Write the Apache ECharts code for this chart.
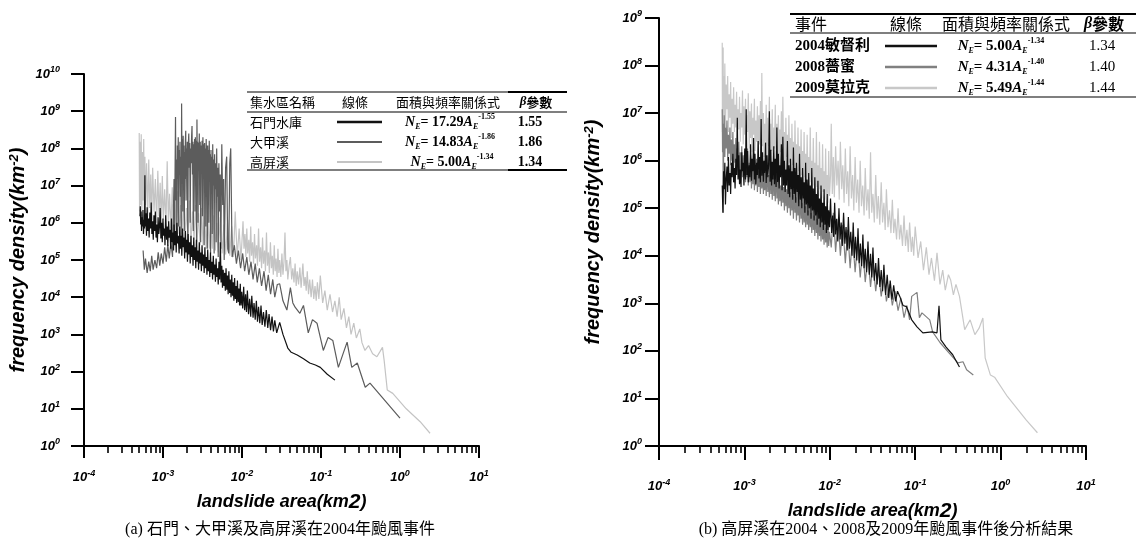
<!DOCTYPE html>
<html>
<head>
<meta charset="utf-8">
<title>landslide area frequency density</title>
<script src="https://cdn.jsdelivr.net/npm/echarts@6/dist/echarts.min.js"></script>
<style>
html, body { margin: 0; padding: 0; background: #fff; }
#chart { width: 1136px; height: 544px; }
</style>
</head>
<body>
<div id="chart"></div>
<script>
// (a) 2004 typhoon, three catchments  [area km2, frequency density km-2]
const shimen = [
  [5.10e-4,1.5e6],[5.16e-4,2.8e6],[5.22e-4,9.0e5],[5.28e-4,2.0e6],[5.35e-4,6.0e5],[5.42e-4,1.4e6],[5.50e-4,8.0e5],[5.58e-4,2.2e6],
  [5.66e-4,5.0e5],[5.75e-4,1.2e6],[5.84e-4,7.0e5],[5.90e-4,1.9e7],[5.96e-4,8.0e5],[6.07e-4,1.8e6],[6.18e-4,4.5e5],[6.30e-4,2.6e6],
  [6.42e-4,6.0e5],[6.55e-4,1.3e6],[6.68e-4,4.0e5],[6.81e-4,1.9e6],[6.95e-4,7.0e5],[7.09e-4,3.5e6],[7.23e-4,5.0e5],[7.38e-4,1.1e6],
  [7.53e-4,3.5e5],[7.68e-4,1.6e6],[7.84e-4,6.0e5],[8.00e-4,2.0e6],[8.16e-4,4.0e5],[8.33e-4,9.0e5],[8.50e-4,3.0e5],[8.67e-4,1.4e6],
  [8.85e-4,5.0e5],[9.03e-4,8.0e5],[9.21e-4,2.5e6],[9.40e-4,3.8e5],[9.59e-4,1.0e6],[9.79e-4,3.0e5],[9.99e-4,1.3e6],[1.02e-3,4.5e5],
  [1.04e-3,7.0e5],[1.06e-3,2.5e5],[1.08e-3,1.6e6],[1.11e-3,3.5e5],[1.13e-3,8.0e5],[1.15e-3,2.4e5],[1.18e-3,1.1e6],[1.20e-3,4.0e5],
  [1.23e-3,6.5e5],[1.25e-3,2.0e5],[1.28e-3,1.3e6],[1.30e-3,3.0e5],[1.33e-3,5.5e5],[1.36e-3,1.8e5],[1.38e-3,9.0e5],[1.41e-3,2.5e5],
  [1.44e-3,6.0e5],[1.47e-3,1.6e5],[1.50e-3,1.0e6],[1.53e-3,2.8e5],[1.56e-3,4.5e5],[1.60e-3,1.5e5],[1.63e-3,8.0e5],[1.66e-3,2.0e5],
  [1.70e-3,4.5e5],[1.73e-3,1.3e5],[1.77e-3,7.0e5],[1.80e-3,2.2e5],[1.84e-3,4.0e5],[1.88e-3,1.1e5],[1.92e-3,6.0e5],[1.96e-3,1.6e5],
  [2.00e-3,3.5e5],[2.04e-3,9.0e4],[2.08e-3,5.0e5],[2.12e-3,1.4e5],[2.17e-3,3.0e5],[2.21e-3,8.0e4],[2.26e-3,4.5e5],[2.30e-3,1.2e5],
  [2.35e-3,2.5e5],[2.40e-3,7.0e4],[2.45e-3,4.0e5],[2.50e-3,1.0e5],[2.55e-3,2.2e5],[2.60e-3,6.0e4],[2.65e-3,3.5e5],[2.71e-3,9.0e4],
  [2.76e-3,1.8e5],[2.82e-3,5.5e4],[2.88e-3,3.0e5],[2.94e-3,8.0e4],[3.00e-3,1.6e5],[3.06e-3,5.0e4],[3.12e-3,2.5e5],[3.19e-3,7.0e4],
  [3.25e-3,1.4e5],[3.32e-3,4.5e4],[3.39e-3,2.2e5],[3.46e-3,6.0e4],[3.53e-3,1.2e5],[3.60e-3,4.0e4],[3.68e-3,1.9e5],[3.75e-3,5.0e4],
  [3.83e-3,1.0e5],[3.91e-3,3.5e4],[3.99e-3,1.6e5],[4.07e-3,4.5e4],[4.16e-3,9.0e4],[4.24e-3,3.0e4],[4.33e-3,1.3e5],[4.42e-3,4.0e4],
  [4.51e-3,7.5e4],[4.61e-3,2.6e4],[4.70e-3,1.1e5],[4.80e-3,3.5e4],[4.90e-3,6.0e4],[5.00e-3,2.2e4],[5.11e-3,9.0e4],[5.21e-3,3.0e4],
  [5.32e-3,3.0e5],[5.43e-3,2.5e4],[5.55e-3,7.0e4],[5.66e-3,1.8e4],[5.78e-3,5.5e4],[5.90e-3,2.0e4],[6.03e-3,4.5e4],[6.15e-3,1.5e4],
  [6.28e-3,6.0e4],[6.41e-3,1.6e4],[6.55e-3,3.8e4],[6.68e-3,1.2e4],[6.82e-3,5.0e4],[6.97e-3,1.3e4],[7.11e-3,3.0e4],[7.26e-3,1.0e4],
  [7.42e-3,4.0e4],[7.57e-3,1.1e4],[7.73e-3,2.5e4],[7.89e-3,8.0e3],[8.06e-3,3.3e4],[8.23e-3,9.0e3],[8.40e-3,2.0e4],[8.57e-3,7.0e3],
  [8.75e-3,2.8e4],[8.94e-3,7.5e3],[9.12e-3,1.7e4],[9.32e-3,6.0e3],[9.51e-3,2.3e4],[9.71e-3,6.0e3],[9.92e-3,1.4e4],[1.02e-2,5.0e3],
  [1.05e-2,1.9e4],[1.08e-2,4.5e3],[1.11e-2,1.2e4],[1.14e-2,4.0e3],[1.17e-2,1.5e4],[1.21e-2,3.5e3],[1.25e-2,9.0e3],[1.29e-2,3.0e3],
  [1.33e-2,1.1e4],[1.38e-2,2.8e3],[1.42e-2,7.0e3],[1.47e-2,2.5e3],[1.52e-2,8.0e3],[1.57e-2,2.2e3],[1.62e-2,5.5e3],[1.68e-2,2.0e3],
  [1.74e-2,6.0e3],[1.80e-2,1.8e3],[1.87e-2,4.0e3],[1.95e-2,1.6e3],[2.03e-2,4.5e3],[2.12e-2,1.5e3],[2.20e-2,3.5e3],[2.30e-2,1.3e3],
  [2.40e-2,3.0e3],[2.50e-2,1.2e3],[2.60e-2,2.4e3],[2.75e-2,1.1e3],[3.00e-2,2.1e3],[3.30e-2,1.0e3],[3.80e-2,4.3e2],[4.20e-2,3.3e2],
  [5.00e-2,2.8e2],[6.00e-2,2.2e2],[7.20e-2,1.7e2],[8.50e-2,1.5e2],[9.80e-2,1.3e2],[1.20e-1,8.5e1],[1.50e-1,5.9e1]
];
const dajia = [
  [5.6e-4,1.8e5],[5.8e-4,5.5e4],[6.0e-4,1.1e5],[6.3e-4,4.5e4],[6.6e-4,9.0e4],[6.9e-4,5.0e4],[7.2e-4,1.3e5],[7.5e-4,5.5e4],
  [7.9e-4,1.0e5],[8.3e-4,6.0e4],[8.7e-4,1.6e5],[9.1e-4,7.0e4],[9.5e-4,1.5e5],[1.0e-3,8.0e4],[1.05e-3,2.2e5],[1.1e-3,9.0e4],
  [1.15e-3,2.6e5],[1.2e-3,1.1e5],[1.26e-3,3.0e5],[1.32e-3,1.2e5],
  [1.38e-3,1.5e7],[1.40e-3,3.0e5],[1.42e-3,2.0e7],[1.44e-3,7.0e8],[1.46e-3,4.0e6],[1.48e-3,5.0e7],[1.50e-3,3.0e5],[1.52e-3,1.2e8],
  [1.54e-3,1.5e7],[1.56e-3,2.0e8],[1.58e-3,8.0e5],[1.60e-3,9.0e7],[1.62e-3,2.0e7],[1.64e-3,1.5e8],[1.66e-3,5.0e6],[1.68e-3,6.0e7],
  [1.70e-3,2.5e5],[1.72e-3,1.6e9],[1.74e-3,3.0e7],[1.76e-3,1.8e8],[1.78e-3,2.0e6],[1.80e-3,2.2e8],[1.82e-3,3.0e7],[1.84e-3,1.2e8],
  [1.86e-3,6.0e5],[1.88e-3,8.0e7],[1.90e-3,1.5e7],[1.92e-3,1.6e8],[1.94e-3,3.0e8],[1.96e-3,4.0e6],[1.98e-3,1.0e8],[2.00e-3,2.5e7],
  [2.03e-3,1.5e8],[2.06e-3,3.0e5],[2.09e-3,1.2e8],[2.12e-3,2.5e8],[2.15e-3,3.0e7],[2.18e-3,1.4e8],[2.21e-3,1.0e6],[2.24e-3,1.0e8],
  [2.27e-3,4.0e7],[2.30e-3,2.0e8],[2.33e-3,4.0e8],[2.36e-3,2.0e7],[2.39e-3,1.5e8],[2.42e-3,6.0e5],[2.45e-3,1.3e8],[2.48e-3,5.0e7],
  [2.51e-3,1.8e8],[2.54e-3,2.0e6],[2.57e-3,2.0e8],[2.60e-3,6.0e7],[2.63e-3,1.6e8],[2.66e-3,2.0e5],[2.69e-3,6.0e8],[2.72e-3,3.0e7],
  [2.75e-3,1.5e8],[2.78e-3,1.0e6],[2.81e-3,1.4e8],[2.84e-3,4.0e7],[2.88e-3,2.5e8],[2.92e-3,3.0e6],[2.96e-3,1.5e8],[3.00e-3,3.0e5],
  [3.04e-3,1.2e8],[3.08e-3,3.0e7],[3.12e-3,1.6e8],[3.16e-3,1.5e6],[3.20e-3,2.0e8],[3.24e-3,5.0e7],[3.28e-3,1.3e8],[3.32e-3,2.5e5],
  [3.36e-3,1.4e8],[3.40e-3,2.0e7],[3.44e-3,1.0e8],[3.48e-3,8.0e5],[3.52e-3,1.8e8],[3.56e-3,4.0e7],[3.60e-3,1.2e8],[3.64e-3,2.0e5],
  [3.68e-3,1.2e8],[3.72e-3,3.0e7],[3.76e-3,9.0e7],[3.80e-3,1.0e6],[3.85e-3,1.6e8],[3.90e-3,2.0e7],[3.95e-3,7.0e7],[4.00e-3,1.5e5],
  [4.05e-3,9.0e7],[4.10e-3,1.5e7],[4.15e-3,6.0e7],[4.20e-3,5.0e5],[4.26e-3,1.3e8],[4.32e-3,1.0e7],[4.38e-3,5.0e7],[4.44e-3,1.5e5],
  [4.50e-3,7.0e7],[4.57e-3,8.0e6],[4.64e-3,4.0e7],[4.71e-3,3.0e5],[4.78e-3,1.0e8],[4.85e-3,5.0e6],[4.92e-3,3.0e7],[5.00e-3,1.2e5],
  [5.10e-3,4.0e7],[5.20e-3,2.0e6],[5.30e-3,2.0e7],[5.40e-3,2.0e5],[5.55e-3,1.3e8],[5.70e-3,3.0e6],[5.85e-3,1.5e7],[5.95e-3,1.0e5],
  [6.2e-3,3.0e7],[6.4e-3,6.0e7],[6.6e-3,2.0e5],[6.8e-3,1.5e5],[7.0e-3,4.0e7],[7.2e-3,1.0e8],[7.5e-3,1.2e5],
  [8.0e-3,2.5e5],[8.5e-3,8.0e4],[9.0e-3,1.8e5],[9.6e-3,6.0e4],
  [1.02e-2,1.5e5],[1.08e-2,5.0e4],[1.15e-2,1.2e5],[1.22e-2,4.0e4],[1.3e-2,9.0e4],[1.38e-2,3.0e4],[1.47e-2,8.0e4],[1.56e-2,2.5e4],
  [1.66e-2,6.0e4],[1.77e-2,2.0e4],[1.9e-2,5.0e4],[2.02e-2,1.5e4],[2.15e-2,4.0e4],[2.3e-2,1.2e4],[2.45e-2,3.0e4],[2.6e-2,1.0e4],
  [2.8e-2,2.2e4],[3.0e-2,2.3e4],[3.3e-2,8.0e3],[3.7e-2,4.5e3],[4.1e-2,1.8e4],[4.4e-2,7.0e3],[4.7e-2,5.4e3],[5.4e-2,3.7e3],
  [6.0e-2,6.0e3],[6.9e-2,1.1e3],[7.8e-2,2.5e3],[8.9e-2,2.0e3],[1.07e-1,3.7e2],[1.23e-1,8.3e2],[1.41e-1,6.9e2],[1.66e-1,1.3e2],
  [1.9e-1,3.0e2],[2.14e-1,6.2e2],[2.45e-1,1.3e2],[2.88e-1,1.7e2],[3.63e-1,3.8e1],[4.17e-1,4.9e1],[1.0,5.6]
];
const gaoping = [
  [5.0e-4,2.6e8],[5.05e-4,2.0e6],[5.1e-4,1.5e8],[5.2e-4,3.0e6],[5.3e-4,2.4e8],[5.4e-4,1.5e6],[5.5e-4,8.0e7],[5.6e-4,4.0e6],
  [5.7e-4,1.8e8],[5.8e-4,2.0e6],[5.9e-4,6.0e7],[6.0e-4,3.0e6],[6.2e-4,4.0e7],[6.4e-4,1.5e6],[6.6e-4,5.0e7],[6.8e-4,2.5e6],
  [7.0e-4,2.0e7],[7.2e-4,1.2e6],[7.4e-4,3.0e7],[7.7e-4,2.0e6],[8.0e-4,1.5e7],[8.3e-4,1.0e6],[8.6e-4,2.5e7],[8.9e-4,1.5e6],
  [9.2e-4,1.2e7],[9.5e-4,9.0e5],[9.8e-4,1.8e7],[1.01e-3,1.2e6],[1.05e-3,8.0e6],[1.09e-3,8.0e5],[1.13e-3,4.5e7],[1.17e-3,1.0e6],
  [1.21e-3,6.0e6],[1.26e-3,7.0e5],[1.31e-3,9.0e6],[1.36e-3,8.0e5],[1.41e-3,4.0e6],[1.47e-3,6.0e5],[1.53e-3,7.0e6],[1.6e-3,5.0e5],
  [1.67e-3,3.0e6],[1.74e-3,5.0e5],[1.82e-3,5.0e6],[1.9e-3,4.0e5],[1.98e-3,2.5e6],[2.07e-3,4.0e5],[2.16e-3,4.0e6],[2.26e-3,3.0e5],
  [2.36e-3,2.0e6],[2.47e-3,3.5e5],[2.58e-3,3.0e6],[2.7e-3,3.0e5],[2.82e-3,1.8e6],[2.95e-3,2.5e5],[3.08e-3,2.5e6],[3.22e-3,2.5e5],
  [3.37e-3,1.5e6],[3.52e-3,2.0e5],[3.68e-3,2.0e6],[3.85e-3,2.0e5],[4.02e-3,1.2e6],[4.2e-3,2.0e5],[4.4e-3,1.6e6],[4.6e-3,1.8e5],
  [4.8e-3,1.0e6],[5.0e-3,1.6e5],[5.3e-3,1.4e6],[5.6e-3,1.5e5],[5.9e-3,9.0e5],[6.2e-3,1.4e5],[6.6e-3,1.2e6],[7.0e-3,1.3e5],
  [7.4e-3,8.0e5],[7.8e-3,1.2e5],[8.2e-3,2.0e6],[8.7e-3,1.2e5],[9.2e-3,7.0e5],[9.7e-3,1.0e5],[1.03e-2,1.1e6],[1.06e-2,2.0e5],
  [1.09e-2,5.0e5],[1.12e-2,1.2e5],[1.15e-2,7.0e5],[1.18e-2,1.5e5],[1.22e-2,3.5e5],[1.25e-2,9.0e4],[1.29e-2,8.0e5],[1.32e-2,1.3e5],
  [1.36e-2,3.0e5],[1.4e-2,8.0e4],[1.44e-2,5.0e5],[1.48e-2,1.1e5],[1.53e-2,2.5e5],[1.57e-2,7.0e4],[1.62e-2,7.0e5],[1.67e-2,9.0e4],
  [1.72e-2,2.2e5],[1.77e-2,6.0e4],[1.82e-2,4.0e5],[1.87e-2,8.0e4],[1.93e-2,1.8e5],[1.98e-2,5.0e4],[2.04e-2,5.5e5],[2.1e-2,7.0e4],
  [2.16e-2,1.6e5],[2.22e-2,4.5e4],[2.29e-2,3.0e5],[2.36e-2,6.0e4],[2.42e-2,1.3e5],[2.49e-2,4.0e4],[2.56e-2,2.5e5],[2.63e-2,5.0e4],
  [2.7e-2,1.1e5],[2.78e-2,3.5e4],[2.85e-2,2.0e5],[2.93e-2,4.5e4],[3.0e-2,1.0e5],[3.1e-2,3.5e4],[3.2e-2,1.5e5],[3.3e-2,4.0e4],
  [3.4e-2,9.0e4],[3.5e-2,5.5e5],[3.6e-2,5.0e4],[3.7e-2,1.0e5],[3.8e-2,3.0e4],[3.95e-2,7.0e4],[4.1e-2,1.2e5],[4.25e-2,3.0e4],
  [4.4e-2,6.0e4],[4.55e-2,2.5e4],[4.7e-2,8.0e4],[4.85e-2,2.0e4],[5.0e-2,5.0e4],[5.2e-2,2.2e4],[5.4e-2,6.3e4],[5.6e-2,1.8e4],
  [5.9e-2,8.0e4],[6.1e-2,2.0e4],[6.3e-2,3.5e4],[6.5e-2,1.5e4],[6.7e-2,5.0e4],[6.95e-2,1.2e4],[7.2e-2,3.0e4],[7.5e-2,1.0e4],
  [7.8e-2,3.0e4],[8.1e-2,9.0e3],[8.4e-2,2.0e4],[8.7e-2,8.0e3],[9.0e-2,2.5e4],[9.4e-2,9.0e3],[9.8e-2,3.8e4],[1.05e-1,7.0e3],
  [1.12e-1,1.5e4],[1.2e-1,4.5e3],[1.3e-1,1.2e4],[1.4e-1,4.0e3],[1.5e-1,8.0e3],[1.6e-1,3.0e3],[1.7e-1,1.0e4],[1.8e-1,2.5e3],
  [1.95e-1,5.0e3],[2.1e-1,1.5e3],[2.25e-1,3.0e3],[2.4e-1,1.0e3],[2.6e-1,2.0e3],[2.8e-1,8.0e2],[3.1e-1,1.4e3],[3.3e-1,6.0e2],
  [3.6e-1,3.7e2],[4.0e-1,5.0e2],[4.5e-1,3.0e2],[5.1e-1,2.5e2],[5.6e-1,3.5e2],[6.0e-1,4.5e2],[6.3e-1,2.0e2],[6.9e-1,3.2e1],
  [8.1e-1,2.6e1],[1.2,1.0e1],[1.8,4.5],[2.4,2.2]
];

// (b) Gaoping river, three typhoon events
const mindulle2004 = [
  [5.50e-4,3.0e5],[5.60e-4,8.0e4],[5.70e-4,6.0e5],[5.80e-4,2.5e5],[5.90e-4,9.0e5],[6.00e-4,1.2e5],[6.12e-4,4.0e5],[6.25e-4,7.5e5],
  [6.37e-4,2.2e5],[6.50e-4,1.2e6],[6.63e-4,3.0e5],[6.77e-4,5.5e5],[6.90e-4,2.0e5],[7.04e-4,9.0e5],[7.18e-4,4.5e5],[7.33e-4,1.4e6],
  [7.48e-4,3.5e5],[7.63e-4,7.0e5],[7.78e-4,2.6e5],[7.94e-4,1.1e6],[8.10e-4,5.0e5],[8.26e-4,8.0e6],[8.43e-4,4.0e5],[8.60e-4,1.3e6],
  [8.77e-4,3.2e5],[8.95e-4,6.5e5],[9.13e-4,2.8e5],[9.31e-4,1.5e6],[9.50e-4,6.0e5],[9.69e-4,9.0e5],[9.88e-4,3.0e5],[1.01e-3,1.8e6],
  [1.03e-3,4.0e5],[1.05e-3,1.2e7],[1.07e-3,5.0e5],[1.09e-3,1.6e6],[1.11e-3,3.5e5],[1.14e-3,8.0e5],[1.16e-3,4.5e5],[1.18e-3,2.2e6],
  [1.21e-3,3.8e5],[1.23e-3,1.1e6],[1.26e-3,6.0e5],[1.28e-3,3.0e6],[1.31e-3,4.0e5],[1.33e-3,1.4e6],[1.36e-3,3.2e5],[1.39e-3,9.0e5],
  [1.42e-3,5.0e5],[1.45e-3,2.6e6],[1.48e-3,4.2e5],[1.51e-3,1.2e6],[1.54e-3,3.5e5],[1.57e-3,7.5e6],[1.60e-3,4.8e5],[1.63e-3,1.5e6],
  [1.67e-3,3.6e5],[1.70e-3,1.0e6],[1.73e-3,5.5e5],[1.77e-3,2.4e6],[1.80e-3,3.4e5],[1.84e-3,1.3e6],[1.88e-3,4.5e5],[1.92e-3,8.0e5],
  [1.96e-3,1.1e7],[2.00e-3,3.6e5],[2.04e-3,1.7e6],[2.08e-3,3.0e5],[2.12e-3,9.5e5],[2.16e-3,4.0e5],[2.21e-3,2.0e6],[2.25e-3,3.2e5],
  [2.30e-3,1.1e6],[2.35e-3,2.8e5],[2.40e-3,5.0e6],[2.45e-3,3.5e5],[2.50e-3,1.4e6],[2.55e-3,2.6e5],[2.60e-3,8.0e5],[2.65e-3,4.5e5],
  [2.71e-3,2.2e6],[2.76e-3,2.4e5],[2.82e-3,3.2e6],[2.88e-3,3.0e5],[2.94e-3,1.0e6],[3.00e-3,2.2e5],[3.06e-3,6.5e5],[3.12e-3,3.0e5],
  [3.19e-3,2.6e6],[3.25e-3,2.0e5],[3.32e-3,8.0e5],[3.39e-3,1.7e5],[3.46e-3,1.1e6],[3.53e-3,2.5e5],[3.60e-3,6.0e5],[3.68e-3,1.5e5],
  [3.75e-3,1.9e6],[3.83e-3,2.0e5],[3.91e-3,7.0e5],[3.99e-3,1.3e5],[4.07e-3,9.0e5],[4.16e-3,2.2e5],[4.24e-3,5.0e5],[4.33e-3,1.1e5],
  [4.42e-3,1.4e6],[4.51e-3,1.5e5],[4.61e-3,4.5e5],[4.70e-3,1.0e5],[4.80e-3,7.0e5],[4.90e-3,1.6e5],[5.00e-3,3.5e5],[5.11e-3,8.0e4],
  [5.21e-3,9.0e5],[5.32e-3,1.2e5],[5.43e-3,4.0e5],[5.55e-3,7.0e4],[5.66e-3,5.5e5],[5.78e-3,1.0e5],[5.90e-3,3.0e5],[6.03e-3,6.0e4],
  [6.15e-3,7.0e5],[6.28e-3,9.0e4],[6.41e-3,2.6e5],[6.55e-3,5.5e4],[6.68e-3,4.5e5],[6.82e-3,7.0e4],[6.97e-3,2.0e5],[7.11e-3,4.5e4],
  [7.26e-3,3.8e5],[7.42e-3,6.0e4],[7.57e-3,1.6e5],[7.73e-3,4.0e4],[7.89e-3,3.0e5],[8.06e-3,5.0e4],[8.23e-3,1.3e5],[8.40e-3,3.5e4],
  [8.57e-3,2.5e5],[8.75e-3,4.5e4],[8.94e-3,1.1e5],[9.12e-3,3.0e4],[9.32e-3,2.0e5],[9.51e-3,3.5e4],[9.71e-3,9.0e4],[9.92e-3,4.0e4],
  [1.02e-2,1.6e5],[1.05e-2,3.0e4],[1.08e-2,7.0e4],[1.11e-2,2.5e4],[1.14e-2,1.3e5],[1.17e-2,2.8e4],[1.20e-2,6.0e4],[1.24e-2,2.0e4],
  [1.28e-2,1.0e5],[1.32e-2,2.2e4],[1.36e-2,5.0e4],[1.40e-2,1.6e4],[1.45e-2,8.0e4],[1.50e-2,1.8e4],[1.55e-2,4.0e4],[1.60e-2,1.3e4],
  [1.65e-2,6.5e4],[1.70e-2,1.4e4],[1.76e-2,3.2e4],[1.82e-2,1.0e4],[1.88e-2,5.0e4],[1.94e-2,9.0e3],[2.00e-2,2.5e4],[2.07e-2,8.0e3],
  [2.14e-2,3.8e4],[2.21e-2,7.0e3],[2.28e-2,1.8e4],[2.36e-2,6.0e3],[2.44e-2,2.8e4],[2.52e-2,5.5e3],[2.60e-2,1.4e4],[2.70e-2,4.5e3],
  [2.80e-2,2.0e4],[2.90e-2,4.0e3],[3.00e-2,1.1e4],[3.10e-2,3.5e3],[3.20e-2,1.5e4],[3.32e-2,3.0e3],[3.45e-2,7.0e3],[3.58e-2,2.5e3],
  [3.72e-2,9.0e3],[3.86e-2,2.2e3],[4.00e-2,5.0e3],[4.15e-2,1.8e3],[4.30e-2,6.5e3],[4.50e-2,1.5e3],[4.70e-2,4.0e3],[4.90e-2,1.3e3],
  [5.10e-2,3.0e3],[5.35e-2,1.2e3],[5.60e-2,2.4e3],[5.90e-2,1.1e3],[6.20e-2,1.8e3],[6.60e-2,1.4e3],[7.20e-2,9.0e2],[7.90e-2,8.5e2],
  [9.10e-2,4.5e2],[1.05e-1,3.2e2],[1.23e-1,2.4e2],[1.58e-1,2.5e2],[1.80e-1,2.4e2],[1.90e-1,8.9e2],[2.00e-1,1.7e2],[2.30e-1,1.2e2],
  [2.75e-1,8.3e1],[3.30e-1,4.6e1]
];
const fungwong2008 = [
  [5.50e-4,1.2e7],[5.55e-4,1.5e6],[5.60e-4,6.0e6],[5.66e-4,8.0e4],[5.72e-4,3.0e6],[5.80e-4,9.0e6],[5.90e-4,1.2e6],[6.00e-4,5.0e6],
  [6.12e-4,1.8e6],[6.25e-4,7.0e6],[6.37e-4,1.0e6],[6.50e-4,3.5e6],[6.63e-4,1.4e6],[6.77e-4,5.0e6],[6.90e-4,8.0e5],[7.04e-4,2.8e6],
  [7.18e-4,1.0e6],[7.33e-4,4.0e6],[7.48e-4,7.0e5],[7.63e-4,2.2e6],[7.78e-4,9.0e5],[7.94e-4,3.0e6],[8.10e-4,6.0e5],[8.26e-4,1.8e6],
  [8.43e-4,7.0e5],[8.60e-4,2.5e6],[8.77e-4,5.0e5],[8.95e-4,1.5e6],[9.13e-4,6.0e5],[9.31e-4,2.0e6],[9.50e-4,4.5e5],[9.69e-4,1.3e6],
  [9.88e-4,5.0e5],[1.01e-3,1.6e6],[1.03e-3,3.5e5],[1.05e-3,1.0e6],[1.07e-3,4.5e5],[1.09e-3,1.8e6],[1.11e-3,3.0e5],[1.14e-3,9.0e5],
  [1.16e-3,3.5e5],[1.18e-3,1.3e6],[1.21e-3,2.6e5],[1.23e-3,8.0e5],[1.26e-3,3.2e5],[1.28e-3,1.5e6],[1.31e-3,2.4e5],[1.33e-3,7.0e5],
  [1.36e-3,3.0e5],[1.39e-3,1.1e6],[1.42e-3,2.2e5],[1.45e-3,6.0e5],[1.48e-3,2.8e5],[1.51e-3,9.0e5],[1.54e-3,2.0e5],[1.57e-3,1.2e6],
  [1.60e-3,2.6e5],[1.63e-3,6.5e5],[1.67e-3,2.0e5],[1.70e-3,1.0e6],[1.73e-3,2.4e5],[1.77e-3,5.5e5],[1.80e-3,1.8e5],[1.84e-3,8.0e5],
  [1.88e-3,2.2e5],[1.92e-3,5.0e5],[1.96e-3,1.7e5],[2.00e-3,9.0e5],[2.04e-3,2.0e5],[2.08e-3,4.5e5],[2.12e-3,1.5e5],[2.16e-3,7.0e5],
  [2.21e-3,1.8e5],[2.25e-3,4.0e5],[2.30e-3,1.4e5],[2.35e-3,8.0e5],[2.40e-3,1.6e5],[2.45e-3,3.5e5],[2.50e-3,1.2e5],[2.55e-3,6.0e5],
  [2.60e-3,1.4e5],[2.65e-3,3.0e5],[2.71e-3,1.1e5],[2.76e-3,5.0e5],[2.82e-3,1.3e5],[2.88e-3,2.8e5],[2.94e-3,9.0e4],[3.00e-3,4.5e5],
  [3.06e-3,1.1e5],[3.12e-3,2.5e5],[3.19e-3,8.0e4],[3.25e-3,4.0e5],[3.32e-3,1.0e5],[3.39e-3,2.2e5],[3.46e-3,7.0e4],[3.53e-3,3.5e5],
  [3.60e-3,9.0e4],[3.68e-3,1.9e5],[3.75e-3,6.0e4],[3.83e-3,3.0e5],[3.91e-3,8.0e4],[3.99e-3,1.7e5],[4.07e-3,5.5e4],[4.16e-3,2.6e5],
  [4.24e-3,7.0e4],[4.33e-3,1.5e5],[4.42e-3,5.0e4],[4.51e-3,2.2e5],[4.61e-3,6.0e4],[4.70e-3,1.3e5],[4.80e-3,4.5e4],[4.90e-3,1.9e5],
  [5.00e-3,5.0e4],[5.11e-3,1.1e5],[5.21e-3,4.0e4],[5.32e-3,1.6e5],[5.43e-3,4.5e4],[5.55e-3,9.0e4],[5.66e-3,3.5e4],[5.78e-3,1.4e5],
  [5.90e-3,4.0e4],[6.03e-3,8.0e4],[6.15e-3,3.0e4],[6.28e-3,1.2e5],[6.41e-3,3.5e4],[6.55e-3,7.0e4],[6.68e-3,2.6e4],[6.82e-3,1.0e5],
  [6.97e-3,3.0e4],[7.11e-3,6.0e4],[7.26e-3,2.2e4],[7.42e-3,8.5e4],[7.57e-3,2.6e4],[7.73e-3,5.0e4],[7.89e-3,2.0e4],[8.06e-3,7.0e4],
  [8.23e-3,2.2e4],[8.40e-3,4.5e4],[8.57e-3,1.7e4],[8.75e-3,6.0e4],[8.94e-3,1.9e4],[9.12e-3,3.8e4],[9.32e-3,1.5e4],[9.51e-3,5.0e4],
  [9.71e-3,1.6e4],[9.92e-3,3.2e4],[1.04e-2,1.5e4],[1.1e-2,8.0e4],[1.17e-2,1.2e4],[1.25e-2,6.0e4],[1.33e-2,1.0e4],[1.42e-2,4.5e4],
  [1.52e-2,7.0e3],[1.62e-2,3.5e4],[1.73e-2,5.5e3],[1.85e-2,2.5e4],[1.98e-2,4.5e3],[2.12e-2,2.0e4],[2.27e-2,3.5e3],[2.43e-2,1.4e4],
  [2.6e-2,2.8e3],[2.8e-2,1.0e4],[3.0e-2,2.2e3],[3.2e-2,7.0e3],[3.45e-2,1.8e3],[3.7e-2,5.0e3],[4.0e-2,1.4e3],[4.3e-2,3.5e3],
  [4.6e-2,1.1e3],[5.0e-2,2.5e3],[5.4e-2,9.0e2],[5.8e-2,1.8e3],[6.3e-2,7.0e2],[6.8e-2,1.3e3],[7.4e-2,5.0e2],[8.0e-2,9.0e2],
  [8.6e-2,4.5e2],[9.1e-2,1.4e3],[1.05e-1,1.7e3],[1.12e-1,5.0e2],[1.2e-1,6.3e2],[1.48e-1,4.5e2],[1.6e-1,2.5e2],[1.95e-1,1.5e2],
  [2.5e-1,9.0e1],[3.16e-1,5.6e1],[3.63e-1,5.9e1],[4.0e-1,4.0e1],[4.79e-1,3.1e1]
];
const morakot2009 = [
  [5.50e-4,3.0e8],[5.53e-4,4.0e6],[5.56e-4,1.4e8],[5.60e-4,2.0e6],[5.64e-4,2.4e8],[5.68e-4,8.0e6],[5.72e-4,6.0e7],[5.80e-4,3.0e6],
  [5.90e-4,1.1e8],[6.00e-4,5.0e6],[6.12e-4,4.0e7],[6.25e-4,1.2e7],[6.37e-4,6.0e7],[6.50e-4,4.0e6],[6.63e-4,2.5e7],[6.77e-4,8.0e6],
  [6.90e-4,4.5e7],[7.04e-4,3.0e6],[7.18e-4,2.0e7],[7.33e-4,6.0e6],[7.48e-4,3.5e7],[7.63e-4,4.0e6],[7.78e-4,1.5e7],[7.94e-4,5.0e6],
  [8.10e-4,2.8e7],[8.26e-4,3.0e6],[8.43e-4,1.2e7],[8.60e-4,4.5e6],[8.77e-4,2.2e7],[8.95e-4,2.5e6],[9.13e-4,1.0e7],[9.31e-4,5.0e6],
  [9.50e-4,3.0e7],[9.69e-4,2.2e6],[9.88e-4,1.4e7],[1.01e-3,3.5e6],[1.03e-3,2.0e7],[1.05e-3,2.0e6],[1.07e-3,9.0e6],[1.09e-3,4.0e6],
  [1.11e-3,2.6e7],[1.14e-3,1.8e6],[1.16e-3,1.1e7],[1.18e-3,3.0e6],[1.21e-3,1.6e7],[1.23e-3,1.5e6],[1.26e-3,8.0e6],[1.28e-3,3.5e6],
  [1.31e-3,2.0e7],[1.33e-3,1.6e6],[1.36e-3,7.0e6],[1.39e-3,2.5e6],[1.42e-3,1.4e7],[1.45e-3,1.3e6],[1.48e-3,9.0e6],[1.51e-3,2.2e6],
  [1.54e-3,1.8e7],[1.57e-3,1.2e6],[1.60e-3,7.0e7],[1.63e-3,2.0e6],[1.67e-3,1.0e7],[1.70e-3,1.2e6],[1.73e-3,6.0e6],[1.77e-3,2.5e6],
  [1.80e-3,1.5e7],[1.84e-3,1.0e6],[1.88e-3,8.0e6],[1.92e-3,2.0e6],[1.96e-3,2.2e7],[2.00e-3,1.1e6],[2.04e-3,6.0e6],[2.08e-3,1.6e6],
  [2.12e-3,1.2e7],[2.16e-3,9.0e5],[2.21e-3,5.0e6],[2.25e-3,1.8e6],[2.30e-3,1.5e7],[2.35e-3,8.0e5],[2.40e-3,6.0e6],[2.45e-3,1.4e6],
  [2.50e-3,9.0e6],[2.55e-3,7.0e5],[2.60e-3,4.5e6],[2.65e-3,1.5e6],[2.71e-3,1.1e7],[2.76e-3,7.0e5],[2.82e-3,2.2e7],[2.88e-3,1.0e6],
  [2.94e-3,4.0e6],[3.00e-3,6.0e5],[3.06e-3,8.0e6],[3.12e-3,1.2e6],[3.19e-3,3.5e6],[3.25e-3,6.0e5],[3.32e-3,9.0e6],[3.39e-3,9.0e5],
  [3.46e-3,3.0e6],[3.53e-3,5.0e5],[3.60e-3,6.0e6],[3.68e-3,8.0e5],[3.75e-3,2.5e6],[3.83e-3,4.5e5],[3.91e-3,7.0e6],[3.99e-3,7.0e5],
  [4.07e-3,2.2e6],[4.16e-3,4.0e5],[4.24e-3,5.0e6],[4.33e-3,6.0e5],[4.42e-3,2.0e6],[4.51e-3,3.5e5],[4.61e-3,4.5e6],[4.70e-3,5.0e5],
  [4.80e-3,1.6e6],[4.90e-3,3.0e5],[5.00e-3,4.0e6],[5.11e-3,4.5e5],[5.21e-3,1.4e6],[5.32e-3,2.8e5],[5.43e-3,3.5e6],[5.55e-3,4.0e5],
  [5.66e-3,1.2e6],[5.78e-3,2.5e5],[5.90e-3,5.0e6],[6.03e-3,3.5e5],[6.15e-3,1.0e6],[6.28e-3,2.2e5],[6.41e-3,3.0e6],[6.55e-3,3.0e5],
  [6.68e-3,9.0e5],[6.82e-3,2.0e5],[6.97e-3,4.0e6],[7.11e-3,2.8e5],[7.26e-3,8.0e5],[7.42e-3,1.8e5],[7.57e-3,2.5e6],[7.73e-3,2.5e5],
  [7.89e-3,7.0e5],[8.06e-3,1.6e5],[8.23e-3,2.2e6],[8.40e-3,2.2e5],[8.57e-3,6.0e5],[8.75e-3,1.5e5],[8.94e-3,1.8e6],[9.12e-3,2.0e5],
  [9.32e-3,5.0e5],[9.51e-3,1.3e5],[9.71e-3,1.6e6],[9.92e-3,1.8e5],[1.02e-2,5.0e5],[1.04e-2,6.0e6],[1.07e-2,2.0e5],[1.10e-2,1.2e6],
  [1.13e-2,1.7e5],[1.17e-2,2.0e6],[1.21e-2,3.0e5],[1.25e-2,1.0e6],[1.29e-2,1.5e5],[1.33e-2,2.5e6],[1.38e-2,2.5e5],[1.42e-2,8.0e5],
  [1.47e-2,1.3e5],[1.52e-2,1.8e6],[1.57e-2,2.0e5],[1.62e-2,6.0e5],[1.67e-2,1.1e5],[1.73e-2,2.0e6],[1.79e-2,1.6e5],[1.85e-2,5.0e5],
  [1.91e-2,9.0e4],[1.98e-2,1.2e6],[2.05e-2,1.3e5],[2.12e-2,4.0e5],[2.20e-2,8.0e4],[2.27e-2,1.0e6],[2.35e-2,1.1e5],[2.43e-2,3.0e5],
  [2.52e-2,7.0e4],[2.60e-2,7.0e5],[2.70e-2,9.0e4],[2.80e-2,2.5e5],[2.90e-2,6.0e4],[3.00e-2,1.5e6],[3.10e-2,8.0e4],[3.20e-2,2.0e5],
  [3.32e-2,5.0e4],[3.45e-2,5.0e5],[3.58e-2,6.0e4],[3.70e-2,1.8e5],[3.85e-2,4.5e4],[4.00e-2,3.5e5],[4.15e-2,5.0e4],[4.30e-2,1.3e5],
  [4.45e-2,3.5e4],[4.60e-2,2.5e5],[4.80e-2,4.0e4],[5.00e-2,9.0e4],[5.20e-2,3.0e4],[5.40e-2,1.5e5],[5.60e-2,3.0e4],[5.80e-2,6.0e4],
  [6.05e-2,2.2e4],[6.30e-2,1.0e5],[6.55e-2,2.2e4],[6.80e-2,4.5e4],[7.10e-2,1.6e4],[7.40e-2,7.0e4],[7.70e-2,1.6e4],[8.00e-2,3.5e4],
  [8.30e-2,1.2e4],[8.60e-2,5.0e4],[9.00e-2,1.2e4],[9.30e-2,2.5e4],[9.60e-2,1.0e4],[1.00e-1,4.1e4],[1.08e-1,9.0e3],[1.16e-1,2.0e4],
  [1.25e-1,5.0e3],[1.35e-1,1.5e4],[1.45e-1,4.0e3],[1.55e-1,9.0e3],[1.68e-1,3.0e3],[1.80e-1,1.15e4],[1.95e-1,2.5e3],[2.10e-1,5.0e3],
  [2.25e-1,1.9e3],[2.45e-1,4.0e3],[2.60e-1,3.1e3],[2.80e-1,1.5e3],[3.00e-1,2.5e3],[3.30e-1,1.4e3],[3.80e-1,2.8e2],[4.40e-1,4.5e2],
  [5.00e-1,2.2e2],[5.60e-1,3.0e2],[6.20e-1,4.9e2],[6.60e-1,7.1e1],[7.60e-1,3.1e1],[8.50e-1,2.8e1],[1.2,1.1e1],[2.0,3.5],[2.7,1.9]
];

// table texts
const tableANames = ['石門水庫', '大甲溪', '高屏溪'];
const tableACoef = ['17.29', '14.83', '5.00'];
const tableAExp = ['-1.55', '-1.86', '-1.34'];
const tableABeta = ['1.55', '1.86', '1.34'];
const tableBNames = ['2004敏督利', '2008薔蜜', '2009莫拉克'];
const tableBCoef = ['5.00', '4.31', '5.49'];
const tableBExp = ['-1.34', '-1.40', '-1.44'];
const tableBBeta = ['1.34', '1.40', '1.44'];

const colorsA = ['#111111', '#5c5c5c', '#c4c4c4'];
const colorsB = ['#111111', '#808080', '#c8c8c8'];

const SANS = '"Liberation Sans", Arial, sans-serif';
const SERIF = '"Liberation Serif", "Noto Sans CJK TC", serif';
const CJK = '"Noto Sans CJK TC", sans-serif';

const minorTicks = [];
[1e-4, 1e-3, 1e-2, 1e-1, 1].forEach(d => {
    [2, 3, 4, 5, 6, 7, 8, 9].forEach(m => minorTicks.push(+(d * m).toPrecision(3)));
});

const tickRich = {
    b: { fontFamily: SANS, fontSize: 13, fontWeight: 'bold', fontStyle: 'italic', color: '#000', lineHeight: 17 },
    s: { fontFamily: SANS, fontSize: 9, fontWeight: 'bold', fontStyle: 'italic', color: '#000', lineHeight: 10, verticalAlign: 'top' }
};
function powLabel(v) {
    return '{b|10}{s|' + Math.round(Math.log10(v)) + '}';
}
function nameStyle(size) {
    return {
        fontFamily: SANS, fontSize: size, fontWeight: 'bold', fontStyle: 'italic', color: '#000',
        rich: {
            s: { fontFamily: SANS, fontSize: 13, fontWeight: 'bold', fontStyle: 'italic', color: '#000', lineHeight: 12, verticalAlign: 'top' },
            t: { fontFamily: SANS, fontSize: 21, fontWeight: 'bold', color: '#000', lineHeight: 24 }
        }
    };
}

function xMajor(grid, tickLen, margin, gap) {
    return {
        type: 'log', logBase: 10, gridIndex: grid, min: 1e-4, max: 10, interval: 1,
        name: 'landslide area(km{t|2})', nameLocation: 'middle', nameGap: gap, nameTextStyle: nameStyle(18),
        axisLine: { lineStyle: { color: '#000', width: 2 } },
        axisTick: { length: tickLen, lineStyle: { color: '#000', width: 2 } },
        axisLabel: { margin: margin, formatter: powLabel, rich: tickRich },
        splitLine: { show: false }
    };
}
function xMinor(grid) {
    return {
        type: 'log', logBase: 10, gridIndex: grid, min: 1e-4, max: 10, position: 'bottom',
        axisLine: { show: false },
        axisTick: { show: true, length: 7, customValues: minorTicks, lineStyle: { color: '#000', width: 1.6 } },
        axisLabel: { show: false },
        splitLine: { show: false }
    };
}
function yAxis(grid, max, tickLen, margin) {
    return {
        type: 'log', logBase: 10, gridIndex: grid, min: 1, max: max, interval: 1,
        name: 'frequency density(km{s|-2})', nameLocation: 'middle', nameGap: 56, nameTextStyle: nameStyle(20),
        axisLine: { show: true, lineStyle: { color: '#000', width: 2 } },
        axisTick: { show: true, length: tickLen, lineStyle: { color: '#000', width: 2 } },
        axisLabel: { margin: margin, formatter: powLabel, rich: tickRich },
        splitLine: { show: false }
    };
}
function line(name, data, color, xi, yi) {
    return {
        name: name, type: 'line', xAxisIndex: xi, yAxisIndex: yi, data: data,
        showSymbol: false, symbol: 'none', animation: false,
        lineStyle: { width: 1.2, color: color }, itemStyle: { color: color }
    };
}

// ---- tables and captions (graphic) ----
const graphics = [];
function hline(x1, x2, y, w) {
    graphics.push({ type: 'line', shape: { x1: x1, y1: y, x2: x2, y2: y }, style: { stroke: '#000', lineWidth: w }, z: 100 });
}
function txt(x, y, text, font, align, rich) {
    graphics.push({ type: 'text', x: x, y: y, z: 100,
        style: { text: text, font: font, fill: '#000', align: align || 'center', verticalAlign: 'middle', rich: rich } });
}
function formulaRich(size) {
    const f = SERIF;
    return {
        n: { fontFamily: f, fontSize: size, fontWeight: 'bold', fontStyle: 'italic', lineHeight: 18 },
        d: { fontFamily: f, fontSize: size, fontWeight: 'bold', lineHeight: 18 },
        sub: { fontFamily: f, fontSize: 8, fontWeight: 'bold', fontStyle: 'italic', lineHeight: 9, verticalAlign: 'bottom' },
        sup: { fontFamily: f, fontSize: 8, fontWeight: 'bold', lineHeight: 9, verticalAlign: 'top' },
        g: { fontFamily: f, fontSize: size, fontWeight: 'bold', fontStyle: 'italic', lineHeight: 18 },
        h: { fontFamily: CJK, fontSize: size, fontWeight: 'bold', lineHeight: 18 }
    };
}
function formula(coef, exp) {
    return '{n|N}{sub|E}{d|= ' + coef + '}{n|A}{sub|E}{sup|' + exp + '}';
}

// table (a)
hline(247, 567, 92, 1.2); hline(508, 567, 92, 2);
hline(247, 567, 112, 1.2);
hline(247, 567, 170, 1.2); hline(508, 567, 170, 2);
const headA = '13px ' + CJK;
txt(250, 102, '集水區名稱', headA, 'left');
txt(355, 102, '線條', headA);
txt(448, 102, '面積與頻率關係式', headA);
txt(536, 102, '{g|β}{h|參數}', headA, 'center', formulaRich(13));
tableANames.forEach((nm, i) => {
    const y = 122 + i * 20;
    txt(250, y, nm, headA, 'left');
    graphics.push({ type: 'line', z: 100, shape: { x1: 337, y1: y, x2: 382, y2: y },
        style: { stroke: colorsA[i], lineWidth: i === 0 ? 2.5 : 2 } });
    txt(i === 2 ? 452 : 450, y, formula(tableACoef[i], tableAExp[i]), 'bold 14px ' + SERIF, 'center', formulaRich(14));
    txt(530, y, tableABeta[i], 'bold 14px ' + SERIF);
});

// table (b)
hline(790, 1136, 14, 2);
hline(790, 1136, 33, 1.2);
hline(790, 1136, 97, 1.2);
const headB = '16px ' + CJK;
txt(795, 24, '事件', headB, 'left');
txt(906, 24, '線條', headB);
txt(1006, 24, '面積與頻率關係式', headB);
txt(1104, 24, '{g|β}{h|參數}', headB, 'center', formulaRich(16));
tableBNames.forEach((nm, i) => {
    const y = 46 + i * 21;
    txt(795, y, nm, 'bold 15px ' + SERIF, 'left');
    graphics.push({ type: 'line', z: 100, shape: { x1: 885, y1: y, x2: 937, y2: y },
        style: { stroke: colorsB[i], lineWidth: 2.5 } });
    txt(1001, y, formula(tableBCoef[i], tableBExp[i]), 'bold 15px ' + SERIF, 'center', formulaRich(15));
    txt(1102, y, tableBBeta[i], '15px ' + SERIF);
});

// captions
txt(280, 530, '(a) 石門、大甲溪及高屏溪在2004年颱風事件', '16px ' + SERIF);
txt(886, 530, '(b) 高屏溪在2004、2008及2009年颱風事件後分析結果', '16px ' + SERIF);

const chart = echarts.init(document.getElementById('chart'), null, { renderer: 'canvas' });
chart.setOption({
    backgroundColor: '#fff',
    animation: false,
    grid: [
        { left: 84, top: 74, width: 395, height: 372 },
        { left: 659, top: 18, width: 427, height: 428 }
    ],
    xAxis: [xMajor(0, 12, 23, 44), xMinor(0), xMajor(1, 14, 32, 53), xMinor(1)],
    yAxis: [yAxis(0, 1e10, 13, 24), yAxis(1, 1e9, 14, 17)],
    series: [
        line('高屏溪', gaoping, colorsA[2], 0, 0),
        line('大甲溪', dajia, colorsA[1], 0, 0),
        line('石門水庫', shimen, colorsA[0], 0, 0),
        line('2009莫拉克', morakot2009, colorsB[2], 2, 1),
        line('2008薔蜜', fungwong2008, colorsB[1], 2, 1),
        line('2004敏督利', mindulle2004, colorsB[0], 2, 1)
    ],
    graphic: graphics
});
</script>
</body>
</html>
